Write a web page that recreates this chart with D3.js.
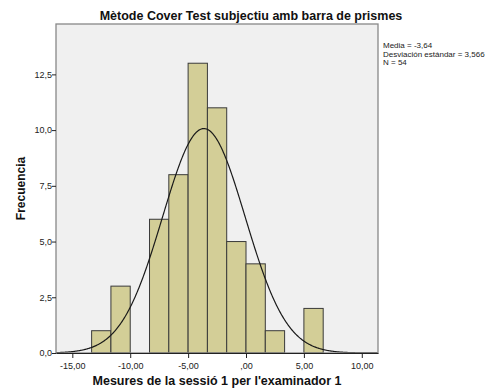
<!DOCTYPE html>
<html>
<head>
<meta charset="utf-8">
<script src="https://cdn.jsdelivr.net/npm/d3@7"></script>
<style>
  html, body { margin: 0; padding: 0; background: #fff; }
  svg { display: block; font-family: Arial, "Liberation Sans", sans-serif; }
</style>
</head>
<body>
<svg id="chart" width="499" height="392"></svg>
<script>
// Histogram bins (lower edge, upper edge) and frequencies
const binStarts = [-13.3333, -11.6667, -10, -8.3333, -6.6667, -5, -3.3333, -1.6667, 0, 1.6667, 3.3333, 5];
const binWidth = 5 / 3;
const counts = [1, 3, 0, 6, 8, 13, 11, 5, 4, 1, 0, 2];

// Summary statistics for the normal curve
const mean = -3.64;
const sd = 3.566;
const n = 54;

const xTicks = [-15, -10, -5, 0, 5, 10];
const xTickLabels = ["-15,00", "-10,00", "-5,00", ",00", "5,00", "10,00"];
const yTicks = [0, 2.5, 5, 7.5, 10, 12.5];
const yTickLabels = ["0,0", "2,5", "5,0", "7,5", "10,0", "12,5"];

const title = "Mètode Cover Test subjectiu amb barra de prismes";
const xTitle = "Mesures de la sessió 1 per l'examinador 1";
const yTitle = "Frecuencia";
const legendLines = ["Media = -3,64", "Desviación estándar = 3,566", "N = 54"];

const svg = d3.select("#chart");
const plot = { left: 56, right: 378, top: 24, bottom: 353 };

const x = d3.scaleLinear().domain([-16.41, 11.40]).range([plot.left, plot.right]);
const y = d3.scaleLinear().domain([0, 14.76]).range([plot.bottom, plot.top]);

// Plot background
svg.append("rect")
  .attr("x", plot.left).attr("y", plot.top)
  .attr("width", plot.right - plot.left).attr("height", plot.bottom - plot.top)
  .attr("fill", "#f0f0f0");

// Bars
const bins = binStarts.map((s, i) => ({ x0: s, x1: s + binWidth, c: counts[i] }));
svg.append("g").selectAll("rect")
  .data(bins.filter(d => d.c > 0))
  .join("rect")
  .attr("x", d => x(d.x0))
  .attr("y", d => y(d.c))
  .attr("width", d => x(d.x1) - x(d.x0))
  .attr("height", d => y(0) - y(d.c))
  .attr("fill", "#d3ce97")
  .attr("stroke", "#3a3a3a")
  .attr("stroke-width", 1);

// Normal density curve scaled to counts
const scaleFactor = n * binWidth / (sd * Math.sqrt(2 * Math.PI));
const xs = d3.range(-16.41, 11.41, 0.05);
const line = d3.line()
  .x(d => x(d))
  .y(d => y(scaleFactor * Math.exp(-0.5 * ((d - mean) / sd) ** 2)));
svg.append("path")
  .datum(xs)
  .attr("d", line)
  .attr("fill", "none")
  .attr("stroke", "#1a1a1a")
  .attr("stroke-width", 1.2);

// Frame
svg.append("rect")
  .attr("x", plot.left).attr("y", plot.top)
  .attr("width", plot.right - plot.left).attr("height", plot.bottom - plot.top)
  .attr("fill", "none")
  .attr("stroke", "#888")
  .attr("stroke-width", 1.3);

// Axes
const xAxis = d3.axisBottom(x).tickValues(xTicks)
  .tickFormat((d, i) => xTickLabels[i]).tickSize(5).tickSizeOuter(0);
const gx = svg.append("g").attr("transform", `translate(0,${plot.bottom})`).call(xAxis);
gx.select(".domain").attr("stroke", "#222");
gx.selectAll(".tick line").attr("stroke", "#222");
gx.selectAll("text").attr("font-size", 9).attr("fill", "#222")
  .attr("font-family", "Arial, 'Liberation Sans', sans-serif").attr("dy", "0.9em");

const yAxis = d3.axisLeft(y).tickValues(yTicks)
  .tickFormat((d, i) => yTickLabels[i]).tickSize(4).tickSizeOuter(0);
const gy = svg.append("g").attr("transform", `translate(${plot.left},0)`).call(yAxis);
gy.select(".domain").remove();
gy.selectAll(".tick line").attr("stroke", "#222");
gy.selectAll("text").attr("font-size", 9).attr("fill", "#222")
  .attr("font-family", "Arial, 'Liberation Sans', sans-serif").attr("x", -4);

// Titles
svg.append("text")
  .attr("x", 251).attr("y", 20)
  .attr("text-anchor", "middle")
  .attr("font-size", 12.5).attr("font-weight", "bold").attr("fill", "#111")
  .text(title);

svg.append("text")
  .attr("x", (plot.left + plot.right) / 2).attr("y", 385)
  .attr("text-anchor", "middle")
  .attr("font-size", 12.5).attr("font-weight", "bold").attr("fill", "#111")
  .text(xTitle);

svg.append("text")
  .attr("transform", `translate(25,${(plot.top + plot.bottom) / 2}) rotate(-90)`)
  .attr("text-anchor", "middle")
  .attr("font-size", 12).attr("font-weight", "bold").attr("fill", "#111")
  .text(yTitle);

// Summary statistics block
svg.append("g").selectAll("text")
  .data(legendLines)
  .join("text")
  .attr("x", 383)
  .attr("y", (d, i) => 48 + i * 8.5)
  .attr("font-size", 8).attr("fill", "#222")
  .text(d => d);
</script>
</body>
</html>
